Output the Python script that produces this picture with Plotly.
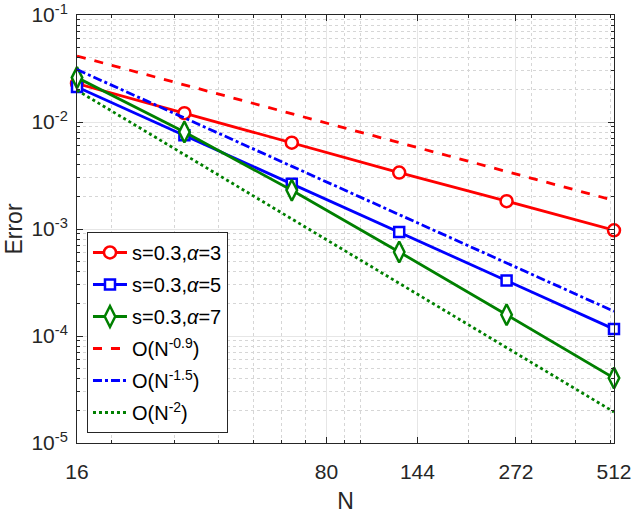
import plotly.graph_objects as go

# ---- data ----
N = [16, 32, 64, 128, 256, 512]
err_a3 = [0.0229, 0.0121, 0.00641, 0.00337, 0.00182, 0.000973]
err_a5 = [0.0212, 0.0075, 0.00265, 0.000938, 0.00033, 0.000116]
err_a7 = [0.026, 0.00807, 0.0023, 0.00061, 0.000158, 0.0000405]

ref_N = [16, 512]
ref_09 = [0.0414, 0.00185]
ref_15 = [0.0309, 0.00017]
ref_20 = [0.0198, 0.0000195]

x_ticks = [16, 80, 144, 272, 512]
x_minor = [20, 30, 40, 50, 60, 70, 90, 100, 200, 300, 400, 500]
y_ticks = [1e-5, 1e-4, 1e-3, 1e-2, 1e-1]
y_ticktext = ["10<sup>-5</sup>", "10<sup>-4</sup>", "10<sup>-3</sup>", "10<sup>-2</sup>", "10<sup>-1</sup>"]
y_minor = [m * 10.0 ** e for e in range(-5, -1) for m in range(2, 10)]

RED = "#FF0000"
BLUE = "#0000FF"
GREEN = "#008000"
FONT = "Liberation Sans, Arial, sans-serif"

fig = go.Figure()

def add_marked(y, color, symbol, size, name, grp):
    fig.add_trace(go.Scatter(
        x=N, y=y, mode="lines+markers", name=name, legendgroup=grp,
        cliponaxis=False,
        line=dict(color=color, width=2.8),
        marker=dict(symbol=symbol, size=size, color="white",
                    line=dict(color=color, width=2.5)),
    ))

def add_ref(y, color, dash, name, grp):
    fig.add_trace(go.Scatter(
        x=ref_N, y=y, mode="lines", name=name, legendgroup=grp,
        line=dict(color=color, width=2.8, dash=dash),
    ))

add_marked(err_a3, RED, "circle", 12, "s=0.3,<i>α</i>=3", "g1")
add_marked(err_a5, BLUE, "square", 10, "s=0.3,<i>α</i>=5", "g2")
add_marked(err_a7, GREEN, "diamond-tall", 15, "s=0.3,<i>α</i>=7", "g3")
add_ref(ref_09, RED, "dash", "O(N<sup>-0.9</sup>)", "g4")
add_ref(ref_15, BLUE, "dashdot", "O(N<sup>-1.5</sup>)", "g5")
add_ref(ref_20, GREEN, "dot", "O(N<sup>-2</sup>)", "g6")

axis_common = dict(
    type="log",
    automargin=False,
    showline=True, linecolor="#262626", linewidth=1, mirror="allticks",
    ticks="inside", ticklen=6, tickcolor="#262626",
    showgrid=True, gridcolor="#E6E6E6", gridwidth=1,
    zeroline=False,
    ticklabeloverflow="allow",
    tickfont=dict(family=FONT, size=21, color="#262626"),
)

fig.update_layout(
    width=632, height=514,
    margin=dict(l=77, r=18, t=15, b=71),
    paper_bgcolor="white", plot_bgcolor="white",
    font=dict(family=FONT, color="#262626"),
    showlegend=True,
    legend=dict(
        x=0.0186, y=0.493, xanchor="left", yanchor="top",
        bgcolor="white", bordercolor="#262626", borderwidth=1,
        font=dict(family=FONT, size=20, color="#000000"),
        tracegroupgap=3, itemwidth=34,
    ),
    xaxis=dict(
        **axis_common,
        range=[1.2041, 2.7093],
        tickvals=x_ticks, ticktext=[str(v) for v in x_ticks],
        ticklabelstandoff=10,
        title=dict(text="N", font=dict(family=FONT, size=23, color="#262626"), standoff=17),
        minor=dict(tickvals=x_minor, ticks="inside", ticklen=3, tickcolor="#262626",
                   showgrid=True, gridcolor="#D6D6D6", griddash="dot", gridwidth=1),
    ),
    yaxis=dict(
        **axis_common,
        range=[-5, -1],
        tickvals=y_ticks, ticktext=y_ticktext,
        ticklabelstandoff=4,
        title=dict(text="Error", font=dict(family=FONT, size=23, color="#262626"), standoff=2),
        minor=dict(tickvals=y_minor, ticks="inside", ticklen=3, tickcolor="#262626",
                   showgrid=True, gridcolor="#D6D6D6", griddash="dot", gridwidth=1),
    ),
)

fig.write_html("out.html", config={"displayModeBar": False},
               post_script="document.body.style.margin='0';")
